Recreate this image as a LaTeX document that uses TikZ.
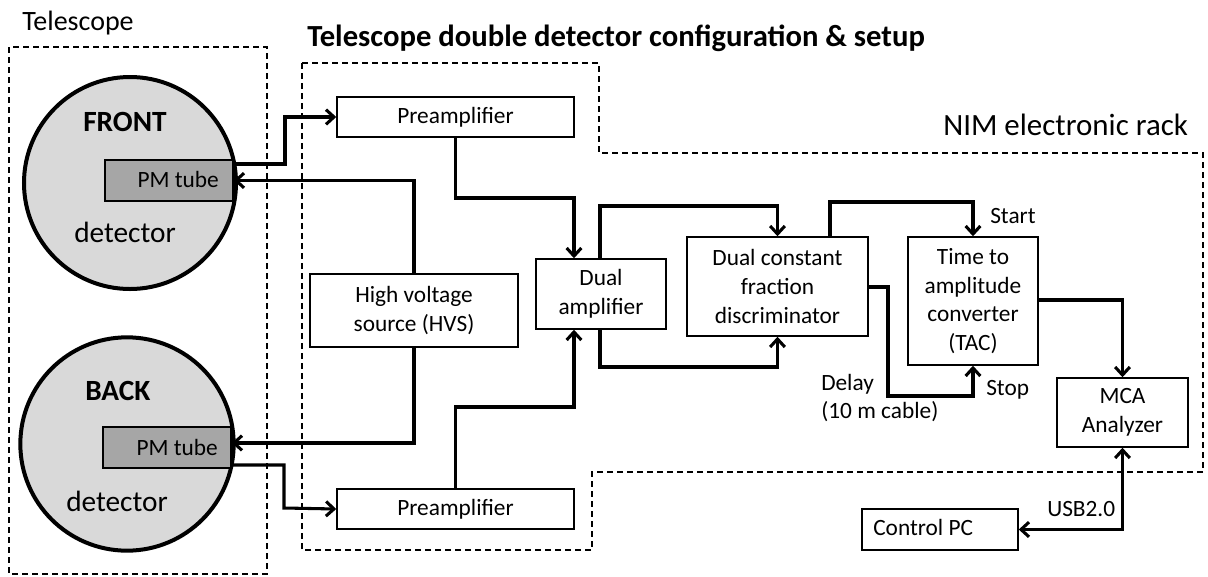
\documentclass[tikz,border=0pt]{standalone}
\usepackage{fontspec}
\setmainfont{Carlito}
\usetikzlibrary{arrows.meta,calc}
\definecolor{detgray}{HTML}{D9D9D9}
\definecolor{pmgray}{HTML}{A6A6A6}
% box from (x1,y1) to (x2,y2) in pixel units
\newcommand\pxbox[7][box]{\node[#1, minimum width={(#5-#3)*0.75pt}, minimum height={(#6-#4)*0.75pt}] (#2) at ({(#3+#5)/2},{(#4+#6)/2}) {#7};}
\begin{document}
\begin{tikzpicture}[x=0.75pt,y=-0.75pt,
  every node/.style={font=\fontsize{17.5}{21.5}\selectfont},
  box/.style={draw, line width=1.1pt, inner sep=0pt, align=center},
  pmbox/.style={draw, line width=1.1pt, inner sep=0pt, fill=pmgray},
  detcirc/.style={circle, draw, line width=3pt, fill=detgray, inner sep=0pt},
  dashbox/.style={line width=1.1pt, dash pattern=on 4.5pt off 3pt},
  conn/.style={line width=2.3pt, -{Straight Barb[length=6pt,width=11pt]}},
  conntwo/.style={line width=2.3pt, {Straight Barb[length=6pt,width=11pt]}-{Straight Barb[length=6pt,width=11pt]}},
  lbl/.style={inner sep=0pt},
  biglbl/.style={inner sep=0pt, font=\fontsize{22}{26}\selectfont},
  boldlbl/.style={inner sep=0pt, font=\fontsize{22}{26}\selectfont\bfseries},
]
\useasboundingbox (0,0) rectangle (1208,576);

% dashed enclosures
\draw[dashbox] (9,47) rectangle (267,574);
\draw[dashbox] (302,63) -- (599,63) -- (599,153) -- (1203,153) -- (1203,472)
  -- (592,472) -- (592,550) -- (302,550) -- cycle;

% titles
\node[lbl, anchor=base west, font=\fontsize{21}{25}\selectfont] (ttel) at (22,30) {Telescope};
\node[lbl, anchor=base west, font=\fontsize{23}{27}\selectfont\bfseries] (tsetup) at (307,46) {Telescope double detector configuration \& setup};
\node[lbl, anchor=base west, font=\fontsize{23.2}{27}\selectfont] (tnim) at (943,135) {NIM electronic rack};

% detectors
\node[detcirc, minimum size=159pt] (detA) at (130,183) {};
\node[detcirc, minimum size=160pt] (detB) at (127,444) {};
\pxbox[pmbox]{pmA}{105}{160}{233}{201}{}
\pxbox[pmbox]{pmB}{103}{427}{231}{468}{}
\node[lbl, anchor=base east] (pmAt) at (219,187) {PM tube};
\node[lbl, anchor=base east] (pmBt) at (218,455) {PM tube};
\node[boldlbl, anchor=base west] (front) at (83,131) {FRONT};
\node[biglbl, anchor=base west] (detAt) at (74,242) {detector};
\node[boldlbl, anchor=base west] (back) at (85,400) {BACK};
\node[biglbl, anchor=base west] (detBt) at (66,511) {detector};

% boxes
\pxbox{preA}{337}{97}{574}{137}{Preamplifier}
\pxbox{preB}{337}{489}{574}{529}{Preamplifier}
\pxbox{hv}{310}{274}{518}{347}{High voltage\\source (HVS)}
\pxbox{damp}{536}{259}{666}{329}{Dual\\amplifier}
\pxbox{cfd}{687}{237}{868}{336}{Dual constant\\fraction\\discriminator}
\pxbox{tac}{908}{237}{1038}{365}{Time to\\amplitude\\converter\\(TAC)}
\pxbox{mca}{1057}{378}{1188}{447}{MCA\\Analyzer}
\pxbox{pc}{862}{509}{1018}{550}{}
\node[lbl, anchor=base west] (pct) at (873,535) {Control PC};

% connector labels
\node[lbl, anchor=base west] (lstart) at (990,223) {Start};
\node[lbl, anchor=base west] (lstop) at (986,395) {Stop};
\node[lbl, anchor=base west] (ldelay) at (821,390) {Delay};
\node[lbl, anchor=base west] (lcable) at (821,418) {(10 m cable)};
\node[lbl, anchor=base west] (lusb) at (1047,516) {USB2.0};

% connectors
\draw[conn] (pmA.east |- 0,164) -| (285,117) -- (preA.west);
\draw[conn] (hv.north) |- (pmA.east);
\draw[conn] (preA.south) |- (574,198) -- (damp.north -| 574,0);
\draw[conn] (damp.north -| 600,0) -- (600,206) -| (cfd.north);
\draw[conn] (damp.south -| 600,0) -- (600,367) -| (cfd.south);
\draw[conn] (cfd.north -| 830,0) -- (830,202) -| (tac.north);
\draw[conn] (cfd.east |- 0,287) -| (888,396) -| (tac.south);
\draw[conn] (tac.east |- 0,300) -| (mca.north);
\draw[conntwo] (mca.south) |- (pc.east);
\draw[conn] (hv.south) |- (pmB.east |- 0,443);
\draw[conn] (pmB.east |- 0,465) -| (284,508) -- (preB.west);
\draw[conn] (preB.north) |- (574,407) -- (damp.south -| 574,0);
\end{tikzpicture}
\end{document}
